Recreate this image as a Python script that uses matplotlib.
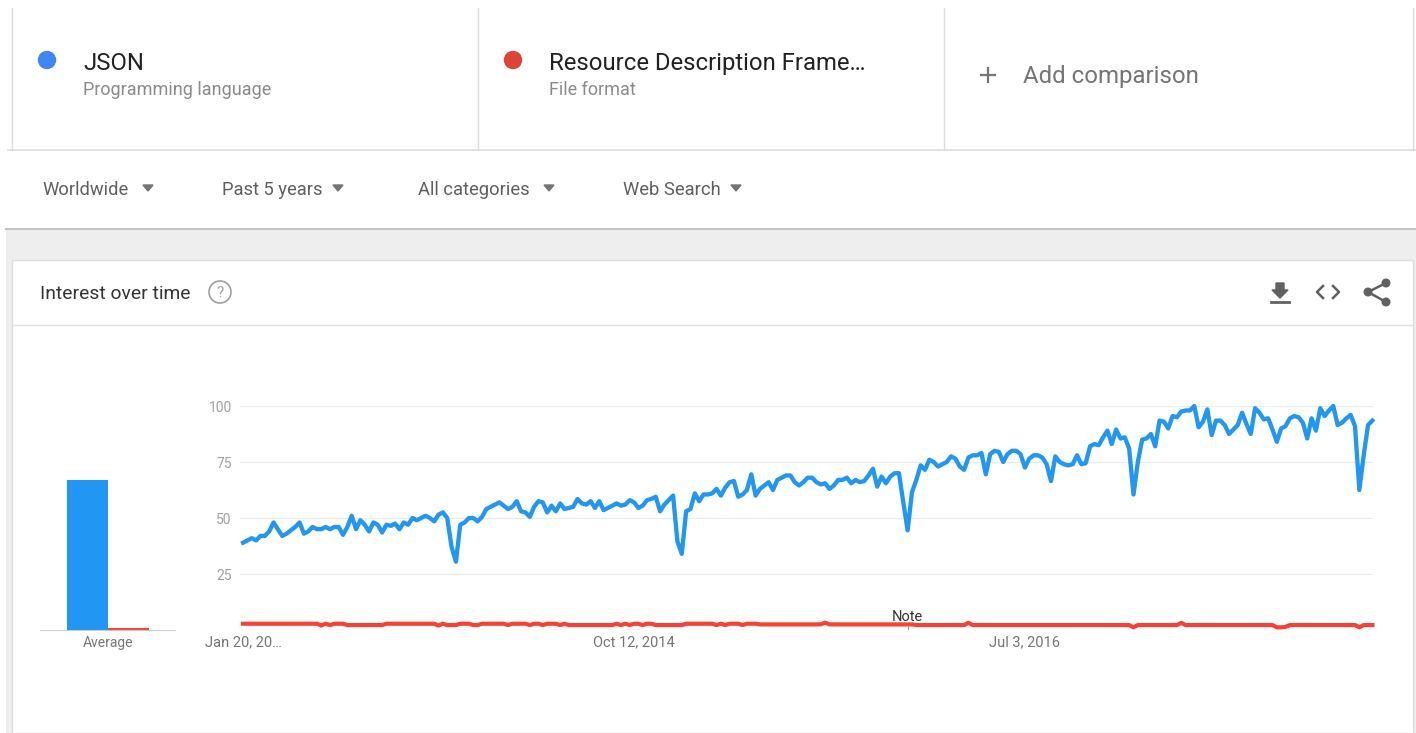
import matplotlib.pyplot as plt
from matplotlib.patches import Circle, Rectangle, Polygon
import pandas as pd

plt.rcParams['font.family'] = ['Roboto', 'DejaVu Sans']

# weekly interest (Jan 20, 2013 -> ~Jan 2018)
json_vals = [
    39, 40, 41, 40, 42, 42, 44, 48, 45, 42,
    43, 44.5, 46, 48, 43, 44, 46, 45, 45, 46,
    45, 46, 46, 42.5, 46, 51, 45, 49, 47, 44,
    48, 47, 43.5, 47, 46.5, 47.5, 45, 48, 47, 50,
    49, 50, 51, 50, 48.5, 51.5, 52.5, 50, 37, 30.5,
    47, 48, 50, 50, 48.5, 50.5, 54, 55, 56, 57,
    55.5, 54, 55, 57.5, 53, 52.5, 50.5, 55, 57.5, 57,
    52.5, 55.5, 53, 56.5, 54, 54.5, 55, 58.5, 56.5, 56,
    57.5, 54.5, 57.5, 53.5, 54.5, 55.5, 56.5, 55.5, 56, 58,
    57, 54.5, 55.5, 58, 58.5, 59.5, 53, 56, 58, 60,
    39.5, 34, 53, 54, 61, 57.5, 60.5, 60.5, 61, 63,
    60, 63.5, 66, 66.5, 59.5, 60.5, 62.5, 69.5, 60, 63,
    64.5, 66, 62.5, 67, 68, 69, 69, 66, 64.5, 66,
    68, 68, 66, 65, 65.5, 63, 64.5, 67, 67, 68,
    65.5, 67, 66, 66.5, 69, 72, 64, 68.5, 65.5, 68.5,
    70, 70, 57, 44.5, 61.5, 67, 73.5, 71.5, 76, 75,
    73, 74, 75, 77.5, 76.5, 73, 71.5, 77, 78, 78,
    79, 69.5, 78.5, 80, 79.5, 75, 78.5, 80, 80, 78.5,
    72.5, 76.5, 78, 78, 77, 74, 66.5, 77.5, 75, 74,
    73.5, 74, 78, 74, 74.5, 82, 83, 82.5, 86, 89,
    83, 89.5, 85.5, 86, 81, 60.5, 75, 85, 85.5, 87.5,
    82, 93.5, 93, 90, 95.5, 95, 97.5, 98, 98, 100,
    90.5, 93, 98.5, 87, 93.5, 93.5, 91.5, 87.5, 89.5, 91.5,
    97, 92, 87.5, 99, 97, 94, 94.5, 89.5, 84, 90,
    91, 94.5, 95.5, 95, 92.5, 85.5, 94.5, 89, 99, 95.5,
    98, 100, 91.5, 92.5, 94.5, 96, 91, 62.5, 78, 91.5,
    93.5,
]
rdf_vals = [
    2.8, 2.8, 2.8, 2.8, 2.8, 2.8, 2.8, 2.8, 2.8, 2.8,
    2.8, 2.8, 2.8, 2.8, 2.8, 2.8, 2.8, 2.8, 2.0, 2.8,
    2.2, 2.8, 2.8, 2.8, 2.2, 2.2, 2.2, 2.2, 2.2, 2.2,
    2.2, 2.2, 2.2, 2.8, 2.8, 2.8, 2.8, 2.8, 2.8, 2.8,
    2.8, 2.8, 2.8, 2.8, 2.8, 2.0, 2.8, 2.2, 2.2, 2.2,
    2.8, 2.8, 2.8, 2.2, 2.2, 2.8, 2.8, 2.8, 2.8, 2.8,
    2.8, 2.2, 2.8, 2.8, 2.8, 2.8, 2.2, 2.8, 2.8, 2.2,
    2.8, 2.8, 2.8, 2.2, 2.8, 2.2, 2.2, 2.2, 2.2, 2.2,
    2.2, 2.2, 2.2, 2.2, 2.2, 2.2, 2.8, 2.2, 2.8, 2.2,
    2.8, 2.8, 2.2, 2.8, 2.8, 2.2, 2.2, 2.2, 2.2, 2.2,
    2.2, 2.2, 2.8, 2.8, 2.8, 2.8, 2.8, 2.8, 2.8, 2.2,
    2.8, 2.2, 2.8, 2.8, 2.8, 2.2, 2.8, 2.8, 2.8, 2.5,
    2.5, 2.5, 2.5, 2.5, 2.5, 2.5, 2.5, 2.5, 2.5, 2.5,
    2.5, 2.5, 2.5, 2.5, 3.3, 2.5, 2.5, 2.5, 2.5, 2.5,
    2.5, 2.5, 2.5, 2.5, 2.5, 2.5, 2.5, 2.5, 2.5, 2.5,
    2.5, 2.5, 2.5, 2.5, 2.5, 2.2, 2.2, 2.2, 2.2, 2.2,
    2.2, 2.2, 2.2, 2.2, 2.2, 2.2, 2.2, 3.2, 2.2, 2.2,
    2.2, 2.2, 2.2, 2.2, 2.2, 2.2, 2.2, 2.2, 2.2, 2.2,
    2.2, 2.2, 2.2, 2.2, 2.2, 2.2, 2.2, 2.2, 2.2, 2.2,
    2.2, 2.2, 2.2, 2.2, 2.2, 2.2, 2.2, 2.2, 2.2, 2.2,
    2.2, 2.2, 2.2, 2.2, 2.2, 1.2, 2.2, 2.2, 2.2, 2.2,
    2.2, 2.2, 2.2, 2.2, 2.2, 2.2, 3.2, 2.2, 2.2, 2.2,
    2.2, 2.2, 2.2, 2.2, 2.2, 2.2, 2.2, 2.2, 2.2, 2.2,
    2.2, 2.2, 2.2, 2.2, 2.2, 2.2, 2.2, 2.2, 1.2, 1.2,
    1.4, 2.2, 2.2, 2.2, 2.2, 2.2, 2.2, 2.2, 2.2, 2.2,
    2.2, 2.2, 2.2, 2.2, 2.2, 2.2, 2.2, 1.2, 2.2, 2.2,
    2.2,
]
avg_vals = [67, 1]
start_date = '2013-01-20'
tick_dates = ['2013-01-20', '2014-10-12', '2016-07-03']
tick_labels = ['Jan 20, 20\u2026', 'Oct 12, 2014', 'Jul 3, 2016']
y_ticks = [25, 50, 75, 100]
note_date = '2015-12-27'

terms = ['JSON', 'Resource Description Frame\u2026']
term_types = ['Programming language', 'File format']
filters = ['Worldwide', 'Past 5 years', 'All categories', 'Web Search']

BLUE = '#2196f3'
RED = '#f44336'
W, H = 1416, 733

fig = plt.figure(figsize=(W / 100, H / 100), dpi=100)
fig.patch.set_facecolor('white')

# --- page chrome, drawn in pixel coordinates
bg = fig.add_axes([0, 0, 1, 1])
bg.set_xlim(0, W)
bg.set_ylim(H, 0)
bg.axis('off')

line_c = '#dcdcdc'
# header boxes
for x in [12, 478, 944, 1413]:
    bg.plot([x, x], [8, 150], color=line_c, lw=1)
bg.plot([8, W], [150, 150], color=line_c, lw=1.2)

dot_cols = ['#4285f4', '#db4437']
for i, (t, st) in enumerate(zip(terms, term_types)):
    x0 = 12 + i * 466
    bg.add_patch(Circle((x0 + 35, 60), 8.5, color=dot_cols[i]))
    bg.text(x0 + 71, 70, t, fontsize=17.2, color='#212121', va='baseline')
    bg.text(x0 + 71, 95, st, fontsize=13, color='#8a8a8a', va='baseline')

bg.plot([981, 995], [75, 75], color='#757575', lw=1.6)
bg.plot([988, 988], [68, 82], color='#757575', lw=1.6)
bg.text(1023, 83, 'Add comparison', fontsize=17.3, color='#757575', va='baseline')

# filter row
fx = [42, 222, 418, 623]
tx = [148, 338, 549, 736]
for f, x, t in zip(filters, fx, tx):
    bg.text(x, 195, f, fontsize=13.2, color='#5f5f5f', va='baseline')
    bg.add_patch(Polygon([(t - 5, 185), (t + 5, 185), (t, 191)], color='#757575'))

# grey band and card
bg.add_patch(Rectangle((6, 228), W - 6, H - 228, color='#eeeeee', lw=0))
bg.plot([6, W], [229, 229], color='#c4c4c4', lw=1.5)
bg.add_patch(Rectangle((12, 260), 1401, H - 260, facecolor='white', edgecolor='#dedede', lw=1))
bg.plot([12, 1413], [325, 325], color='#e0e0e0', lw=1)
bg.text(40, 299, 'Interest over time', fontsize=13.9, color='#333333', va='baseline')
bg.add_patch(Circle((220, 292), 11, facecolor='white', edgecolor='#a0a0a0', lw=1.2))
bg.text(220, 293, '?', fontsize=11, color='#a0a0a0', ha='center', va='center')

# icons: download, embed, share
ic = '#616161'
bg.add_patch(Polygon([(1276, 283), (1284, 283), (1284, 290), (1288, 290), (1280, 298),
                      (1272, 290), (1276, 290)], color=ic))
bg.plot([1271, 1289], [302, 302], color=ic, lw=2)
bg.plot([1323, 1317, 1323], [286, 292, 298], color=ic, lw=1.8)
bg.plot([1333, 1339, 1333], [286, 292, 298], color=ic, lw=1.8)
bg.plot([1386, 1368, 1386], [283, 292, 302], color=ic, lw=1.8)
for cx, cy in [(1386, 283), (1368, 292), (1386, 302)]:
    bg.add_patch(Circle((cx, cy), 3.8, color=ic))


def px_axes(x0, y0, x1, y1):
    return fig.add_axes([x0 / W, 1 - y1 / H, (x1 - x0) / W, (y1 - y0) / H])


# --- average bars
axb = px_axes(40, 406, 175, 630)
axb.bar([0, 1], avg_vals, width=1, color=[BLUE, RED])
axb.set_xlim(-1.16, 2.13)
axb.set_ylim(0, 100)
axb.set_facecolor('none')
for s in ['top', 'right', 'left']:
    axb.spines[s].set_visible(False)
axb.spines['bottom'].set_color('#cccccc')
axb.set_yticks([])
axb.set_xticks([0.5])
axb.set_xticklabels(['Average'])
axb.tick_params(axis='x', length=0, pad=4, labelsize=10, labelcolor='#757575')

# --- interest over time line chart
dates = pd.date_range(start_date, periods=len(json_vals), freq='W-SUN')
ax = px_axes(240, 406, 1373, 630)
ax.set_facecolor('none')
for y in y_ticks:
    ax.axhline(y, color='#ebebeb', lw=0.9, zorder=0)
ax.axhline(0, color='#dddddd', lw=0.9, zorder=0)
ax.plot(dates, json_vals, color=BLUE, lw=3.1, clip_on=False)
ax.plot(dates, rdf_vals, color=RED, lw=3.0, clip_on=False)
ax.set_xlim(dates[0] - pd.Timedelta(days=5), dates[-1] + pd.Timedelta(days=1))
ax.set_ylim(0, 100)
for s in ax.spines.values():
    s.set_visible(False)
ax.set_yticks(y_ticks)
ax.set_yticklabels([str(v) for v in y_ticks])
ax.set_xticks(pd.to_datetime(tick_dates))
ax.set_xticklabels(tick_labels)
ax.tick_params(axis='y', length=0, pad=6, labelsize=10, labelcolor='#a0a0a0')
ax.tick_params(axis='x', length=0, pad=4, labelsize=10.5, labelcolor='#757575')
nd = pd.Timestamp(note_date)
ax.text(nd, 2.8, 'Note', fontsize=10.5, color='#333333', ha='center', va='bottom')
ax.plot([nd, nd], [0, 1.5], color='#999999', lw=0.8)

fig.savefig('out.png', dpi=100)
